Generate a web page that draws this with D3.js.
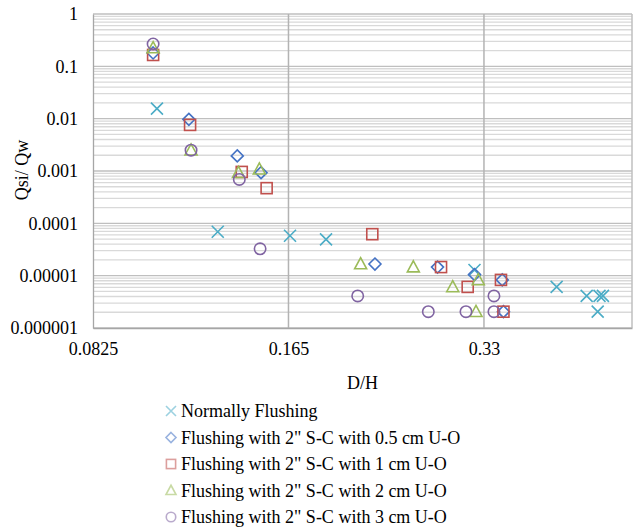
<!DOCTYPE html>
<html><head><meta charset="utf-8">
<script src="https://cdn.jsdelivr.net/npm/d3@7"></script>
<style>body{margin:0;background:#fff}svg{display:block}</style>
</head><body>
<script>
const seriesNames = ["Normally Flushing","Flushing with 2\" S-C with 0.5 cm U-O","Flushing with 2\" S-C with 1 cm U-O","Flushing with 2\" S-C with 2 cm U-O","Flushing with 2\" S-C with 3 cm U-O"];
const normalX = [0.1035,0.1284,0.1659,0.1885,0.3191,0.4270,0.4750,0.4971,0.5032,0.4939];
const normalY = [0.0156,6.9e-5,5.8e-5,4.95e-5,1.28e-5,6.1e-6,4.1e-6,4.1e-6,4.1e-6,2.05e-6];
const uo05X = [0.1021,0.1159,0.1376,0.1497,0.2242,0.2799,0.3191,0.3521,0.3536];
const uo05Y = [0.180,0.0097,0.00194,0.00093,1.67e-5,1.46e-5,1.05e-5,8.3e-6,2.05e-6];
const uo1X = [0.1021,0.1164,0.1398,0.1527,0.2221,0.2834,0.3115,0.3505,0.3536];
const uo1Y = [0.165,0.0076,0.00096,0.00047,6.2e-5,1.46e-5,6.1e-6,8.3e-6,2.05e-6];
const uo2X = [0.1021,0.1168,0.1382,0.1488,0.2131,0.2569,0.2954,0.3234,0.3208];
const uo2Y = [0.224,0.0025,0.00093,0.00108,1.67e-5,1.46e-5,6.1e-6,8.3e-6,2.05e-6];
const uo3X = [0.1021,0.1168,0.1386,0.1492,0.2109,0.2709,0.3096,0.3419,0.3419];
const uo3Y = [0.267,0.0025,0.00069,3.26e-5,4.1e-6,2.05e-6,2.05e-6,4.1e-6,2.05e-6];
const xTicks = [0.0825,0.165,0.33];
const xTickLabels = ["0.0825","0.165","0.33"];
const yTicks = [1,0.1,0.01,0.001,0.0001,0.00001,0.000001];
const yTickLabels = ["1","0.1","0.01","0.001","0.0001","0.00001","0.000001"];

const W=638,H=528;
const L=93,R=632,T=14,B=328;
const colors=["#4BACC6","#4472C4","#C0504D","#9BBB59","#8064A2"];
const shapes=["x","diamond","square","triangle","circle"];
const font="Liberation Serif";
const fs=18;

const svg=d3.select("body").append("svg").attr("width",W).attr("height",H);
const x=d3.scaleLog().base(2).domain([0.0825,0.5578]).range([L,R]);
const y=d3.scaleLog().domain([0.000001,1]).range([B,T]);

// minor grid
const minor=[];
for(let e=-6;e<0;e++){for(let k=2;k<=9;k++){minor.push(k*Math.pow(10,e));}}
svg.append("g").selectAll("line").data(minor).join("line")
  .attr("x1",L).attr("x2",R).attr("y1",d=>y(d)).attr("y2",d=>y(d))
  .attr("stroke","#d9d9d9").attr("stroke-width",1.3);
// major grid
svg.append("g").selectAll("line").data(yTicks).join("line")
  .attr("x1",L).attr("x2",R).attr("y1",d=>y(d)).attr("y2",d=>y(d))
  .attr("stroke","#bfbfbf").attr("stroke-width",1.3);
svg.append("g").selectAll("line").data(xTicks.slice(1)).join("line")
  .attr("x1",d=>x(d)).attr("x2",d=>x(d)).attr("y1",T).attr("y2",B)
  .attr("stroke","#b3b3b3").attr("stroke-width",1.5);
// borders
svg.append("line").attr("x1",R).attr("x2",R).attr("y1",T).attr("y2",B).attr("stroke","#bfbfbf").attr("stroke-width",1.5);

// axes
const yAxis=d3.axisLeft(y).tickValues(yTicks).tickFormat((d,i)=>yTickLabels[i]).tickSize(0).tickPadding(15);
const ga=svg.append("g").attr("transform",`translate(${L},0)`).call(yAxis);
ga.attr("font-family",font).attr("font-size",fs);
ga.select(".domain").attr("stroke","#a6a6a6").attr("stroke-width",1.3);
ga.selectAll("text").style("font-family",font).style("font-size",fs+"px").attr("fill","#000");
const xAxis=d3.axisBottom(x).tickValues(xTicks).tickFormat((d,i)=>xTickLabels[i]).tickSize(0).tickPadding(14);
const gx=svg.append("g").attr("transform",`translate(0,${B})`).call(xAxis);
gx.attr("font-family",font).attr("font-size",fs);
gx.select(".domain").attr("stroke","#a6a6a6").attr("stroke-width",1.3);
gx.selectAll("text").style("font-family",font).style("font-size",fs+"px").attr("fill","#000");

svg.append("text").attr("x",(L+R)/2).attr("y",389).attr("text-anchor","middle")
  .style("font-family",font).style("font-size",fs+"px").text("D/H");
svg.append("text").attr("transform","translate(28,170) rotate(-90)").attr("text-anchor","middle")
  .style("font-family",font).style("font-size",fs+"px").text("Qsi/ Qw");

function marker(g,shape,color,s){
  const h=s/2;
  if(shape==="x"){
    g.append("path").attr("d",`M${-h},${-h}L${h},${h}M${-h},${h}L${h},${-h}`);
  }else if(shape==="diamond"){
    g.append("path").attr("d",`M0,${-h}L${h},0L0,${h}L${-h},0Z`);
  }else if(shape==="square"){
    const q=h*0.92;
    g.append("rect").attr("x",-q).attr("y",-q).attr("width",2*q).attr("height",2*q);
  }else if(shape==="triangle"){
    g.append("path").attr("d",`M0,${-h*1.05}L${h},${h*0.8}L${-h},${h*0.8}Z`);
  }else{
    g.append("circle").attr("r",h*0.95);
  }
  g.selectAll("*").attr("fill","none").attr("stroke",color).attr("stroke-width",1.6);
}

const allX=[normalX,uo05X,uo1X,uo2X,uo3X];
const allY=[normalY,uo05Y,uo1Y,uo2Y,uo3Y];
allX.forEach((xs,si)=>{
  const g=svg.append("g");
  xs.forEach((xv,i)=>{
    const m=g.append("g").attr("transform",`translate(${x(xv)},${y(allY[si][i])})`);
    marker(m,shapes[si],colors[si],12);
  });
});

// legend
const lg=svg.append("g");
seriesNames.forEach((n,i)=>{
  const yy=411+i*26.5;
  const m=lg.append("g").attr("transform",`translate(171,${yy})`).attr("opacity",0.55);
  marker(m,shapes[i],colors[i],10);
  lg.append("text").attr("x",181).attr("y",yy+6).style("font-family",font).style("font-size",fs+"px").text(n);
});
</script>
</body></html>
